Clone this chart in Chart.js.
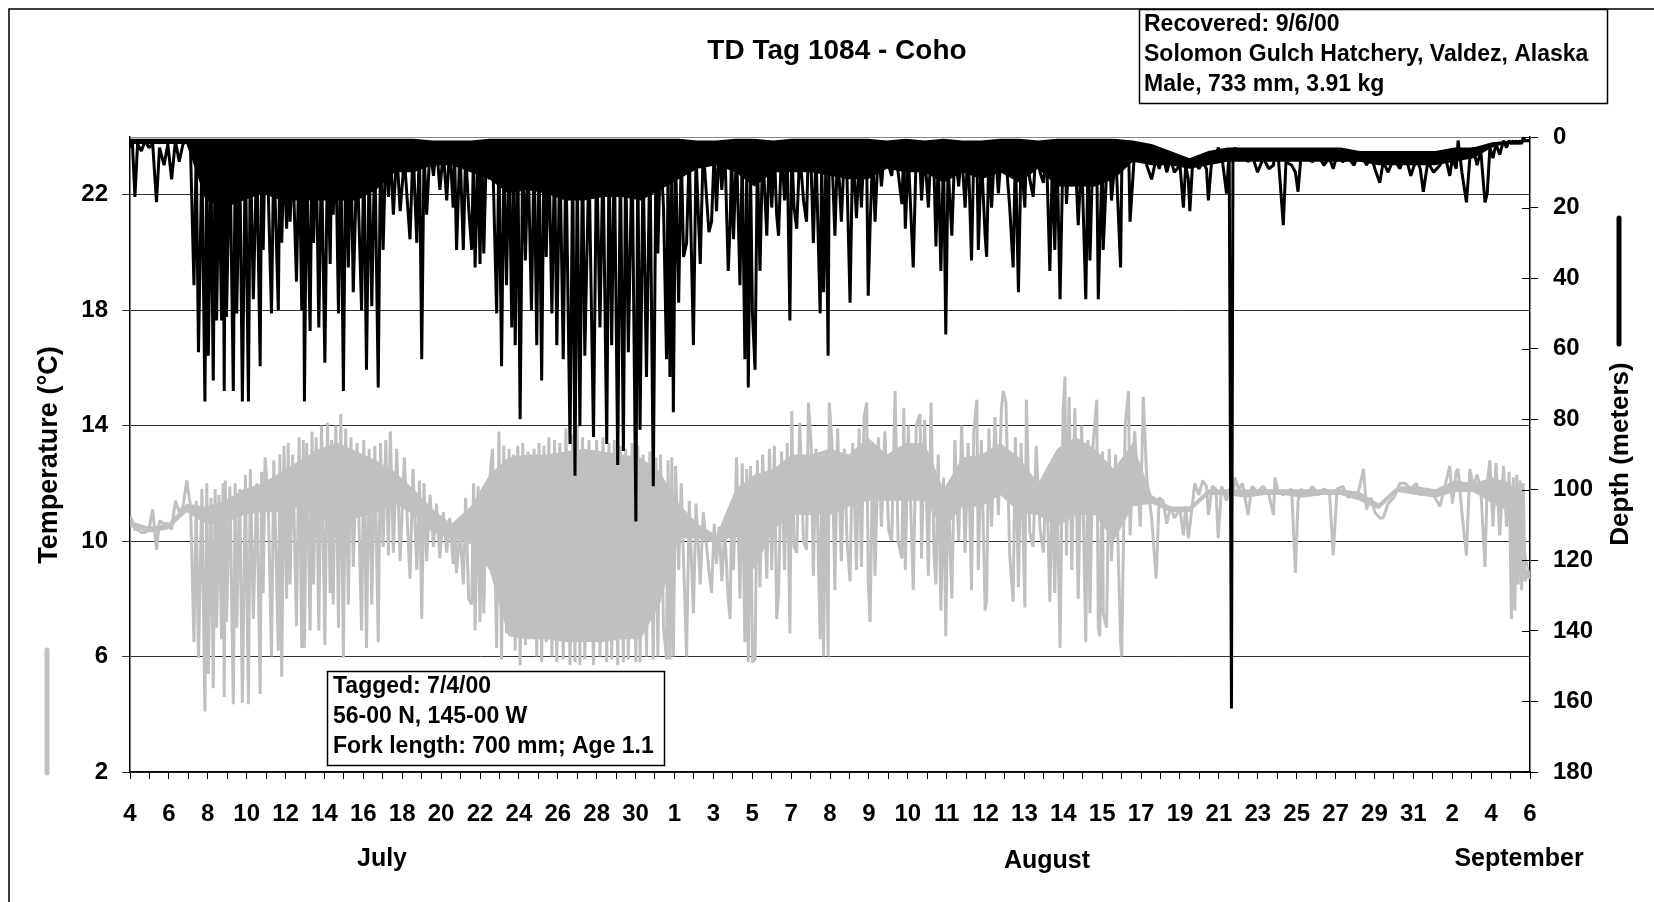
<!DOCTYPE html>
<html><head><meta charset="utf-8">
<style>html,body{margin:0;padding:0;background:#fff}canvas{display:block}</style>
<script src="https://cdn.jsdelivr.net/npm/chart.js@4.4.1/dist/chart.umd.min.js"></script>
</head><body>
<canvas id="c" width="1654" height="902"></canvas>
<script>
// ---- axis labels ----
const xTickLabels = ['4','6','8','10','12','14','16','18','20','22','24','26','28','30','1','3','5','7','8','9','10','11','12','13','14','15','17','19','21','23','25','27','29','31','2','4','6'];
const monthNames = ['July','August','September'];
const tempTicks = [2,6,10,14,18,22];
const depthTicks = [0,20,40,60,80,100,120,140,160,180];

// ---- individual records: position along the record axis, depth (m), temperature (°C) ----
const samplePos = [
0,0.06,0.13,0.2,0.3,0.4,0.5,0.6,0.7,0.78,0.9,1.0,1.1,1.2,1.3,1.4,1.5,1.6,
1.69,1.75,1.81,1.9,1.98,2.03,2.07,2.14,2.20,2.25,2.29,2.35,2.42,2.46,2.49,2.52,2.55,2.64,2.73,2.78,2.82,2.9,2.97,3.05,3.13,3.18,3.26,3.35,3.44,3.48,3.52,3.57,3.65,3.74,3.8,3.92,3.96,4.01,4.07,4.14,4.18,4.23,4.3,4.40,4.47,4.54,4.58,4.61,4.67,
4.76,4.81,4.85,4.92,4.99,5.06,5.15,5.22,5.29,5.33,5.37,5.44,5.51,5.57,5.64,5.7,5.77,5.84,5.90,6.0,6.12,6.18,6.25,6.32,6.39,6.47,6.56,6.62,6.69,6.76,6.83,6.88,6.96,7.05,7.14,7.25,7.40,7.48,7.58,7.65,7.71,7.77,7.84,7.93,8.02,8.1,8.19,8.28,8.37,8.45,8.54,8.58,8.63,8.72,8.81,8.87,8.95,9.03,9.08,9.12,9.2,9.25,9.3,9.35,9.42,
9.5,9.58,9.69,9.75,9.82,9.88,9.95,10.02,10.09,10.14,10.18,10.25,10.31,10.38,10.45,10.52,10.61,10.68,10.75,10.81,10.88,10.94,11.0,11.07,11.15,11.22,11.28,11.36,11.45,11.52,11.63,11.7,11.76,11.82,11.89,11.96,12.02,12.13,12.25,12.33,12.42,12.5,12.6,12.66,12.73,12.8,12.89,12.96,13.04,13.1,13.17,13.27,13.37,13.42,13.48,13.56,13.65,13.74,13.83,13.9,
13.95,14.02,14.1,14.18,14.22,14.27,14.32,14.36,14.42,14.5,14.57,14.63,14.71,14.78,14.89,14.96,15.07,15.15,15.3,15.37,15.44,15.5,15.57,15.64,15.72,15.81,15.86,15.9,15.95,16.03,16.12,16.18,16.25,16.3,16.34,16.4,16.45,16.52,16.58,16.65,16.72,16.83,16.9,16.96,17.03,17.09,17.14,17.22,17.3,17.37,17.44,17.49,17.55,17.62,17.7,17.8,17.88,17.93,18.0,18.06,18.13,18.24,18.28,18.33,18.39,18.45,18.48,
18.55,18.63,18.7,18.8,18.88,18.95,19.03,19.1,19.2,19.27,19.33,19.4,19.47,19.51,19.56,19.63,19.69,19.78,19.86,19.95,20.05,20.13,20.22,20.3,20.4,20.45,20.49,20.57,20.70,20.78,20.88,20.92,21.0,21.1,21.17,21.25,21.3,21.36,21.43,21.5,21.56,21.62,21.72,21.8,21.9,21.98,22.07,22.15,22.24,22.3,22.38,22.42,22.5,22.6,22.64,22.7,22.77,22.86,22.95,23.03,23.08,
23.15,23.25,23.34,23.4,23.48,23.55,23.65,23.69,23.78,23.87,23.95,24.05,24.14,24.22,24.31,24.38,24.44,24.5,24.58,24.66,24.71,24.75,24.82,24.89,24.97,25.06,25.15,25.26,25.32,25.37,25.45,25.55,25.59,25.63,25.7,25.72,25.81,25.88,25.94,26.05,26.18,26.21,26.3,26.39,26.43,26.55,26.7,26.78,26.87,27.0,27.12,27.2,27.3,27.4,27.5,27.6,27.75,
27.84,27.9,27.97,28.01,28.08,28.14,28.25,28.35,28.45,28.5,28.6,28.7,28.76,28.85,28.98,29.05,29.11,29.15,29.2,29.3,29.4,29.55,29.65,29.8,29.95,30.1,30.22,30.26,30.35,30.48,30.55,30.7,30.8,30.87,30.95,31.1,31.25,31.4,31.55,31.7,31.8,31.9,32.05,32.2,32.35,
32.45,32.6,32.68,32.8,32.9,33.03,33.12,33.25,33.4,33.56,33.7,33.85,34.0,34.1,34.18,34.3,34.45,34.62,34.75,34.88,34.95,35.05,35.1,35.2,35.32,35.41,35.5,35.6,35.7,35.81,35.87,35.94,36.02,36.1,36.2,36.3,36.38,36.45,36.51,36.56,36.6,36.65,36.69,36.74,36.78,36.82,36.87,36.91,36.96,37.0
];
const depthM = [
3,1,17,2,4,1,3,2,18.5,3,8,2,12,1,7,2,1,4,
42,4,61,5,75,3,62,8,69,4,52,6,52,3,72,5,51,3,72,6,50,4,75,3,75,2,46,5,65,3,32,2,14,50,4,49,3,30,5,26,3,24,6,41,4,49,3,75,5,
55,4,30,3,54,5,64,3,36,6,22,4,50,2,72,4,37,3,44,5,49,3,66,6,48,3,71,4,32,2,17,3,22,4,21,6,29,3,30,2,63,4,22,3,11,2,15,4,18,2,20,5,32,3,32,4,20,32,3,37,5,36,4,33,3,
12,3,50,4,65,5,42,3,54,6,59,4,80,3,35,5,49,4,59,3,69,4,34,3,50,5,59,3,63,4,87,6,96,8,82,4,62,6,85,3,54,5,87,4,59,2,93,5,89,4,61,3,109,4,83,6,68,3,99,6,
33,3,20,63,8,68,5,78,6,47,4,34,30,4,59,5,36,3,27,24,4,21,2,15,3,38,25,4,29,3,42,5,63,8,71,10,50,66,5,38,3,28,2,20,4,22,28,3,18,5,52,3,20,26,4,18,24,2,8,30,4,50,6,44,8,62,4,
5,28,3,24,4,12,47,3,23,6,20,3,8,45,25,4,24,3,14,2,8,11,2,10,19,3,26,5,37,4,8,18,4,20,3,10,31,6,38,5,56,8,28,3,14,4,20,3,35,5,3,32,5,28,34,4,20,2,16,4,8,
6,20,37,4,44,5,20,3,12,17,2,10,13,4,38,6,32,4,46,3,2,19,4,14,3,25,5,46,6,35,3,6,46,30,4,32,10,3,18,4,37,10,3,2,24,4,6,3,8,12,6,9,5,10,6,10,8,
20,8,12,21,8,7,9,7,9,18,5,6,3,5,16,4,162,5,3,6,4,7,5,10,6,9,8,4,6,25,7,8,10,15.5,5,6,7,5,8,6,9,5,7,6,8,
5,6,8,5,9,13,7,10,6,9,5,11,6,9,15.5,7,10,8,5,11,6,9,1,10,18.5,6,3,8,4,18.5,16,3,6,2,5,1,3,1,2,1,2,1,2,1,2,0,1,1,1,1
];
const tempC = [
10.85,10.7,10.4,10.4,10.3,10.3,10.4,11.1,9.7,10.7,10.6,10.6,10.4,11.4,11.0,11.2,12.1,11.2,
6.5,11.4,5.96,11.8,4.1,12.0,5.4,11.5,4.9,11.8,7.0,11.6,6.6,12.0,4.6,12.1,7.2,11.9,4.35,12.0,7.0,11.8,4.4,12.3,4.35,12.5,7.3,12.0,4.7,12.4,8.2,12.9,11.5,6.0,12.8,6.2,13.0,5.3,13.3,8.0,13.4,8.5,13.0,7.05,13.6,6.3,13.5,6.3,13.4,
6.9,13.8,8.5,13.6,6.9,14.0,6.4,14.1,8.2,13.5,7.8,14.0,7.0,14.4,5.96,13.9,7.8,13.6,9.1,13.4,6.9,13.5,6.3,13.2,7.8,13.3,6.5,13.4,9.8,13.5,9.5,13.8,9.6,13.2,9.3,12.9,8.7,12.5,9.0,12.1,7.3,12.0,9.3,11.6,9.8,11.3,9.4,11.0,9.6,10.8,9.2,10.5,8.9,10.4,8.5,11.5,8.0,7.8,12.0,6.9,11.9,7.2,11.6,7.5,11.9,
12.0,13.2,6.3,13.8,5.9,13.3,6.8,13.2,7.4,13.0,6.2,13.3,5.7,13.4,6.4,13.1,6.9,13.2,6.0,13.4,5.8,13.3,6.5,13.6,6.0,13.5,5.8,13.4,5.9,13.9,5.7,13.7,5.8,14.0,5.7,13.6,5.9,13.5,5.7,13.5,6.0,13.6,5.8,13.4,5.9,13.5,5.7,13.3,5.8,13.2,5.9,13.4,5.8,13.3,5.8,13.0,6.0,13.1,5.9,12.9,
6.0,13.0,7.0,5.9,12.8,5.9,12.9,6.0,12.6,9.0,12.0,9.3,6.0,11.4,7.5,11.3,8.5,11.0,9.0,8.2,10.6,9.2,10.5,8.6,10.4,8.0,7.3,11.0,9.0,12.9,8.0,12.7,6.5,12.5,5.8,12.6,5.8,5.9,12.8,8.4,13.0,8.7,13.2,9.0,13.3,7.3,8.2,13.1,9.0,13.4,6.8,14.5,9.8,9.6,14.1,10.0,9.7,14.8,13.4,8.8,13.2,6.6,12.9,6.0,13.0,6.0,14.8,
13.5,8.3,13.9,9.3,13.2,10.0,8.6,13.4,9.0,13.9,9.1,14.3,14.8,8.6,7.2,13.2,8.8,13.6,10.5,13.8,10.4,10.0,15.2,10.0,9.4,14.6,9.0,14.0,8.3,14.0,14.4,9.4,14.2,8.8,14.8,9.5,8.5,13.0,7.6,12.2,6.7,12.0,8.0,13.5,10.0,14.0,9.6,13.4,8.3,13.8,14.9,9.0,13.5,7.6,8.0,13.9,10.5,14.3,10.9,14.6,15.2,
14.8,9.5,7.9,13.6,8.4,13.4,7.7,14.9,10.3,9.8,13.3,10.4,9.6,12.4,7.9,12.2,8.2,12.0,6.3,14.5,15.7,9.5,15.0,9.0,14.6,8.0,14.0,6.5,13.5,7.5,13.3,14.9,7.0,6.7,13.1,7.5,7.0,13.2,9.3,13.0,6.5,6.0,14.0,15.2,10.2,13.8,10.5,15.0,12.2,10.8,8.7,11.5,11.4,10.6,11.2,10.8,11.1,
10.2,11.2,10.1,10.5,11.3,12.0,11.6,12.1,11.9,10.9,11.9,11.8,10.1,11.9,11.4,11.8,11.7,11.6,12.2,11.8,12.0,10.9,11.9,11.7,11.9,11.6,10.9,12.2,11.7,11.6,11.7,11.8,8.9,11.4,11.8,11.6,11.9,11.6,11.8,11.7,9.5,11.8,11.9,11.5,11.7,
11.6,12.5,11.1,11.5,11.0,10.8,10.8,11.3,11.5,12.0,12.0,11.8,12.0,11.6,11.7,11.8,11.6,11.2,11.9,12.6,11.3,12.4,12.5,11.0,9.5,12.5,11.9,12.3,11.8,9.1,12.0,12.8,10.5,12.7,10.2,12.6,10.5,12.4,7.3,12.2,7.6,12.3,8.5,12.1,8.3,12.0,8.6,9.0,8.7,8.8
];

// ---- dense core of the trace (where readings are too close to separate), every half step ----
const bandPos = [0,0.5,1,1.5,2,2.5,3,3.5,4,4.5,5,5.5,6,6.5,7,7.5,8,8.5,9,9.5,10,10.5,11,11.5,12,12.5,13,13.5,14,14.5,15,15.5,16,16.5,17,17.5,18,18.5,19,19.5,20,20.5,21,21.5,22,22.5,23,23.5,24,24.5,25,25.5,26,26.5,27,27.5,28,28.5,29,29.5,30,30.5,31,31.5,32,32.5,33,33.5,34,34.5,35,35.5,36,36.5,37];
const depthCoreTop = [
0.5,0.5,0.5,0.5,0.5,0.5,0.5,0.5,0.5,0.5,
0.5,0.5,0.5,0.5,0.5,0.5,1,1,1,0.5,
0.5,0.5,0.5,0.5,0.5,0.5,0.5,0.5,0.5,0.5,
1,1,0.5,0.5,1,0.5,0.5,0.5,0.5,0.5,
1,0.5,1,0.5,1,1,0.5,0.5,1,0.5,
0.5,0.5,0.5,1,2,4,6,4,3,3,
3,3,3,3,3,4,4,4,4,4,
3,3,1.5,1,1];
const depthCoreBottom = [
2,2,2,2,18,20,18,16,18,18,
18,18,18,15,10,10,8,8,10,12,
16,15,16,18,18,17,17,18,15,12,
9,8,10,14,10,10,10,11,12,12,
9,10,10,13,10,12,10,13,9,14,
14,14,12,7,8,8,9,8,7,7,
7,7,7,7,7,7,8,8,8,8,
7,6,3,1.5,1.5];
const tempCoreHigh = [
10.7,10.5,10.6,11.3,11.2,11.4,11.8,12.0,12.4,12.8,
13.2,13.4,13.1,12.8,12.4,11.8,11.1,10.6,11.2,12.3,
12.9,13.0,13.0,13.1,13.2,13.1,13.0,12.9,12.4,11.3,
10.6,10.2,11.8,12.3,12.5,13.0,13.0,13.2,13.0,13.6,
13.0,13.4,13.4,11.8,12.9,13.0,13.4,12.9,12.0,13.2,
13.6,13.2,12.5,13.4,11.6,11.2,11.2,11.8,11.8,11.8,
11.8,11.8,11.8,11.8,11.8,11.7,11.3,11.9,11.9,11.8,
12.1,12.0,12.2,12.0,8.9];
const tempCoreLow = [
10.5,10.3,10.4,11.0,10.6,10.6,10.9,11.0,11.0,11.2,
10.8,10.6,10.8,11.0,11.3,10.9,10.3,10.1,9.9,9.0,
6.7,6.6,6.6,6.5,6.5,6.5,6.6,6.6,7.8,10.1,
10.1,9.9,10.2,9.0,10.4,10.9,10.9,10.9,11.2,11.4,
11.4,11.4,11.4,10.4,11.2,11.2,11.6,11.0,10.9,10.5,
10.9,10.9,10.0,11.2,11.3,11.0,11.0,11.6,11.6,11.5,
11.6,11.6,11.5,11.6,11.6,11.4,11.1,11.7,11.6,11.5,
11.7,11.7,11.3,11.0,8.7];

function pairs(xs, ys) {
  const n = Math.min(xs.length, ys.length);
  if (xs.length !== ys.length) console.error('length mismatch', xs.length, ys.length);
  const out = [];
  for (let i = 0; i < n; i++) out.push({x: xs[i], y: ys[i]});
  return out;
}

const FONT = '"Liberation Sans", Arial, Helvetica, sans-serif';
const XMAX = 37;                         // extent of the record axis
const LABEL_STEP = XMAX / (xTickLabels.length - 1);

const decor = {
  id: 'decor',
  afterDraw(chart) {
    const ctx = chart.ctx, a = chart.chartArea;
    const yD = chart.scales.yD;
    ctx.save();
    ctx.strokeStyle = '#8a8a8a'; ctx.lineWidth = 1;
    ctx.beginPath(); ctx.moveTo(a.left, a.top + 0.5); ctx.lineTo(a.right, a.top + 0.5); ctx.stroke();
    ctx.strokeStyle = '#000'; ctx.lineWidth = 1;
    depthTicks.forEach(v => {
      const y = Math.round(yD.getPixelForValue(v)) + 0.5;
      ctx.beginPath(); ctx.moveTo(a.right - 8, y); ctx.lineTo(a.right, y); ctx.stroke();
    });
    ctx.lineWidth = 1.5; ctx.strokeStyle = '#000';
    ctx.beginPath(); ctx.moveTo(9, chart.height); ctx.lineTo(9, 9); ctx.lineTo(chart.width, 9); ctx.stroke();
    ctx.lineCap = 'round'; ctx.lineWidth = 5;
    ctx.strokeStyle = '#c0c0c0';
    ctx.beginPath(); ctx.moveTo(47, 650); ctx.lineTo(47, 773); ctx.stroke();
    ctx.strokeStyle = '#000';
    ctx.beginPath(); ctx.moveTo(1619, 218); ctx.lineTo(1619, 344); ctx.stroke();
    ctx.lineCap = 'butt';
    ctx.fillStyle = '#000'; ctx.textBaseline = 'middle'; ctx.textAlign = 'center';
    ctx.font = 'bold 28px ' + FONT;
    ctx.fillText('TD Tag 1084 - Coho', 837, 51);
    ctx.font = 'bold 25px ' + FONT;
    ctx.fillText(monthNames[0], 382, 859);
    ctx.fillText(monthNames[1], 1047, 861);
    ctx.fillText(monthNames[2], 1519, 859);
    ctx.font = 'bold 27px ' + FONT;
    ctx.save(); ctx.translate(50, 455); ctx.rotate(-Math.PI / 2); ctx.fillText('Temperature (°C)', 0, 0); ctx.restore();
    ctx.font = 'bold 26px ' + FONT;
    ctx.save(); ctx.translate(1621, 454); ctx.rotate(-Math.PI / 2); ctx.fillText('Depth (meters)', 0, 0); ctx.restore();
    ctx.lineWidth = 1.5; ctx.strokeStyle = '#000';
    ctx.fillStyle = '#fff'; ctx.fillRect(1139, 9, 468, 94);
    ctx.strokeRect(1139.5, 9.5, 468, 94);
    ctx.fillStyle = '#000'; ctx.textAlign = 'left';
    ctx.font = 'bold 23px ' + FONT;
    ctx.fillText('Recovered: 9/6/00', 1144, 25);
    ctx.fillText('Solomon Gulch Hatchery, Valdez, Alaska', 1144, 55);
    ctx.fillText('Male, 733 mm, 3.91 kg', 1144, 85);
    ctx.fillStyle = '#fff'; ctx.fillRect(327, 671, 337, 94);
    ctx.strokeRect(327.5, 671.5, 337, 94);
    ctx.fillStyle = '#000';
    ctx.fillText('Tagged: 7/4/00', 333, 687);
    ctx.fillText('56-00 N, 145-00 W', 333, 717);
    ctx.fillText('Fork length: 700 mm; Age 1.1', 333, 747);
    ctx.restore();
  }
};

const lineStyle = { pointRadius: 0, tension: 0, borderJoinStyle: 'bevel' };
const bandStyle = { pointRadius: 0, tension: 0, borderWidth: 0, borderColor: 'rgba(0,0,0,0)' };

new Chart(document.getElementById('c'), {
  type: 'line',
  data: {
    datasets: [
      Object.assign({ label: 'Depth', data: pairs(samplePos, depthM), yAxisID: 'yD', borderColor: '#000', borderWidth: 3, order: 0, fill: false }, lineStyle),
      Object.assign({ label: 'Depth core top', data: pairs(bandPos, depthCoreTop), yAxisID: 'yD', order: 2, fill: false }, bandStyle),
      Object.assign({ label: 'Depth core', data: pairs(bandPos, depthCoreBottom), yAxisID: 'yD', order: 1, fill: '-1', backgroundColor: '#000' }, bandStyle),
      Object.assign({ label: 'Temperature', data: pairs(samplePos, tempC), yAxisID: 'yT', borderColor: '#c0c0c0', borderWidth: 3, order: 3, fill: false }, lineStyle),
      Object.assign({ label: 'Temp core high', data: pairs(bandPos, tempCoreHigh), yAxisID: 'yT', order: 5, fill: false }, bandStyle),
      Object.assign({ label: 'Temp core', data: pairs(bandPos, tempCoreLow), yAxisID: 'yT', order: 4, fill: '-1', backgroundColor: '#c0c0c0' }, bandStyle)
    ]
  },
  options: {
    responsive: false, maintainAspectRatio: false, animation: false, devicePixelRatio: 1,
    parsing: false,
    layout: { padding: { top: 137, left: 0, right: 0, bottom: 0 } },
    plugins: { legend: { display: false }, tooltip: { enabled: false }, title: { display: false } },
    scales: {
      x: {
        type: 'linear', min: 0, max: XMAX, position: 'bottom',
        afterBuildTicks: s => { const t = []; for (let k = 0; k <= (xTickLabels.length - 1) * 2; k++) t.push({ value: k * LABEL_STEP / 2 }); s.ticks = t; },
        afterFit: s => { s.height = 130; },
        ticks: { autoSkip: false, maxRotation: 0, minRotation: 0, padding: 21, color: '#000',
          font: { family: FONT, size: 24, weight: 'bold' },
          callback: (v, i) => (i % 2 === 0 ? xTickLabels[i / 2] : '') },
        grid: { drawOnChartArea: false, drawTicks: true, tickLength: 7, color: '#000', lineWidth: 1 },
        border: { display: true, color: '#000', width: 1.5 }
      },
      yT: {
        type: 'linear', position: 'left', min: 2, max: 24,
        afterBuildTicks: s => { s.ticks = tempTicks.map(v => ({ value: v })); },
        afterFit: s => { s.width = 130; },
        ticks: { padding: 14, color: '#000', font: { family: FONT, size: 24, weight: 'bold' } },
        grid: { drawOnChartArea: true, drawTicks: true, tickLength: 8, color: '#333', lineWidth: 1 },
        border: { display: true, color: '#000', width: 1.5 }
      },
      yD: {
        type: 'linear', position: 'right', min: 0, max: 180, reverse: true,
        afterBuildTicks: s => { s.ticks = depthTicks.map(v => ({ value: v })); },
        afterFit: s => { s.width = 124; },
        ticks: { padding: 15, color: '#000', font: { family: FONT, size: 24, weight: 'bold' } },
        grid: { drawOnChartArea: false, drawTicks: true, tickLength: 8, color: '#000', lineWidth: 1 },
        border: { display: true, color: '#000', width: 1.5 }
      }
    }
  },
  plugins: [decor]
});
</script>
</body></html>
